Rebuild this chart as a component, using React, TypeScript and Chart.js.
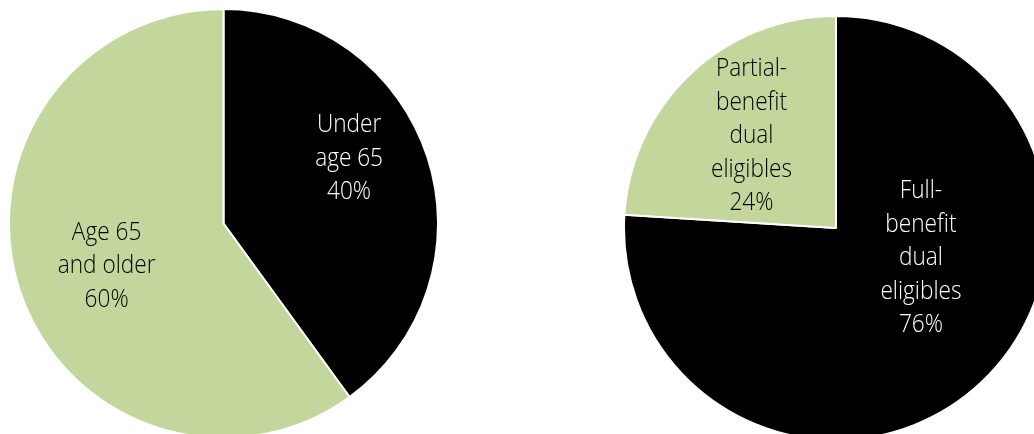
import React, { useEffect, useRef } from "react";
import { Chart, registerables } from "chart.js";

Chart.register(...registerables);

const leftLabels = ["Under\nage 65\n40%", "Age 65\nand older\n60%"];
const leftValues = [40, 60];
const rightLabels = ["Full-\nbenefit\ndual\neligibles\n76%", "Partial-\nbenefit\ndual\neligibles\n24%"];
const rightValues = [76, 24];

const BLACK = "#000000";
const GREEN = "#c3d69b";
const FONT = '"Open Sans", "Noto Sans", sans-serif';

type Place = { angleOffset: number; factor: number; color: string };

const labelPlugin = {
  id: "sliceLabels",
  afterDatasetsDraw(chart: any, _args: any, opts: any) {
    const { ctx } = chart;
    const meta = chart.getDatasetMeta(0);
    const labels: string[] = chart.data.labels;
    const places: Place[] = opts.places || [];
    ctx.save();
    ctx.font = `350 ${opts.fontSize}px ${FONT}`;
    ctx.textAlign = "center";
    ctx.textBaseline = "middle";
    meta.data.forEach((arc: any, i: number) => {
      const p = arc.getProps(["x", "y", "startAngle", "endAngle", "outerRadius"], true);
      const pl = places[i] || { angleOffset: 0, factor: 0.6, color: "#000" };
      const mid = (p.startAngle + p.endAngle) / 2 + (pl.angleOffset * Math.PI) / 180;
      const r = p.outerRadius * pl.factor;
      const cx = p.x + Math.cos(mid) * r;
      const cy = p.y + Math.sin(mid) * r;
      const lines = String(labels[i]).split("\n");
      ctx.fillStyle = pl.color;
      lines.forEach((ln, k) => {
        const y = cy + (k - (lines.length - 1) / 2) * opts.lineHeight;
        ctx.save();
        ctx.translate(cx, y);
        ctx.scale(opts.scaleX, 1);
        ctx.fillText(ln, 0, 0);
        ctx.restore();
      });
    });
    ctx.restore();
  },
};

function PieBox(props: {
  labels: string[];
  values: number[];
  colors: string[];
  places: Place[];
  left: number;
  top: number;
  size: number;
}) {
  const ref = useRef<HTMLCanvasElement>(null);
  useEffect(() => {
    if (!ref.current) return;
    const chart = new Chart(ref.current, {
      type: "pie",
      data: {
        labels: props.labels,
        datasets: [
          {
            data: props.values,
            backgroundColor: props.colors,
            borderColor: "#ffffff",
            borderWidth: 2,
          },
        ],
      },
      options: {
        animation: false,
        responsive: true,
        maintainAspectRatio: false,
        layout: { padding: 0 },
        plugins: {
          legend: { display: false },
          tooltip: { enabled: false },
          sliceLabels: { places: props.places, fontSize: 26, lineHeight: 33.5, scaleX: 0.87 },
        } as any,
      },
      plugins: [labelPlugin],
    });
    return () => chart.destroy();
  }, []);
  return (
    <div
      style={{
        position: "absolute",
        left: props.left,
        top: props.top,
        width: props.size,
        height: props.size,
      }}
    >
      <canvas ref={ref} />
    </div>
  );
}

export default function App() {
  return (
    <div
      style={{
        position: "fixed",
        left: 0,
        top: 0,
        width: 1034,
        height: 434,
        overflow: "hidden",
        background: "#ffffff",
      }}
    >
      <PieBox
        labels={leftLabels}
        values={leftValues}
        colors={[BLACK, GREEN]}
        places={[
          { angleOffset: -9.5, factor: 0.66, color: "#ffffff" },
          { angleOffset: -2, factor: 0.58, color: "#000000" },
        ]}
        left={8}
        top={8}
        size={431}
      />
      <PieBox
        labels={rightLabels}
        values={rightValues}
        colors={[BLACK, GREEN]}
        places={[
          { angleOffset: -27.3, factor: 0.425, color: "#ffffff" },
          { angleOffset: 0.7, factor: 0.59, color: "#000000" },
        ]}
        left={623}
        top={15}
        size={426}
      />
    </div>
  );
}
